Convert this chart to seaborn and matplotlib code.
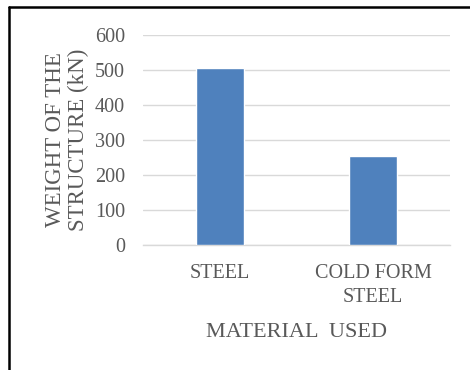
import matplotlib
matplotlib.use("Agg")
import matplotlib.pyplot as plt
from matplotlib.lines import Line2D
import seaborn as sns
import pandas as pd

categories = ["STEEL", "COLD FORM\nSTEEL"]
weights = [506, 254]
yticks = [0, 100, 200, 300, 400, 500, 600]

sns.set_theme(style="white")
plt.rcParams['font.family'] = ['Liberation Serif', 'DejaVu Serif']

df = pd.DataFrame({"material": categories, "weight": weights})

fig = plt.figure(figsize=(4.7, 3.7), dpi=100)
ax = fig.add_axes([143/470, 1-245/370, (450-143)/470, (245-35)/370])

sns.barplot(data=df, x="material", y="weight", color="#4F81BD", width=0.31,
            saturation=1, ax=ax, zorder=3)

ax.set_ylim(0, 600)
ax.set_xlim(-0.5, 1.5)
ax.set_yticks(yticks)
ax.set_yticklabels([str(t) for t in yticks])
ax.grid(axis="y", color="#D9D9D9", linewidth=1, zorder=0)
ax.set_axisbelow(True)
for s in ["top", "right", "left"]:
    ax.spines[s].set_visible(False)
ax.spines["bottom"].set_color("#D9D9D9")
ax.spines["bottom"].set_linewidth(1)
ax.tick_params(axis="both", length=0, colors="#595959", labelsize=14.5)
ax.tick_params(axis="y", pad=13)
ax.tick_params(axis="x", pad=14)
for lab in ax.get_xticklabels():
    lab.set_linespacing(1.35)

ax.set_xlabel("MATERIAL  USED", fontsize=16, color="#595959", labelpad=11)
ax.set_ylabel("WEIGHT OF THE\nSTRUCTURE (kN)", fontsize=16.5, color="#595959",
              labelpad=4.5, linespacing=1.1)

# outer frame lines (top and left)
fig.add_artist(Line2D([9/470, 1], [1-6.5/370, 1-6.5/370], color="black", linewidth=1.8,
                      transform=fig.transFigure))
fig.add_artist(Line2D([9/470, 9/470], [0, 1-6.5/370], color="black", linewidth=1.8,
                      transform=fig.transFigure))

fig.savefig("out.png", dpi=100, facecolor="white")
